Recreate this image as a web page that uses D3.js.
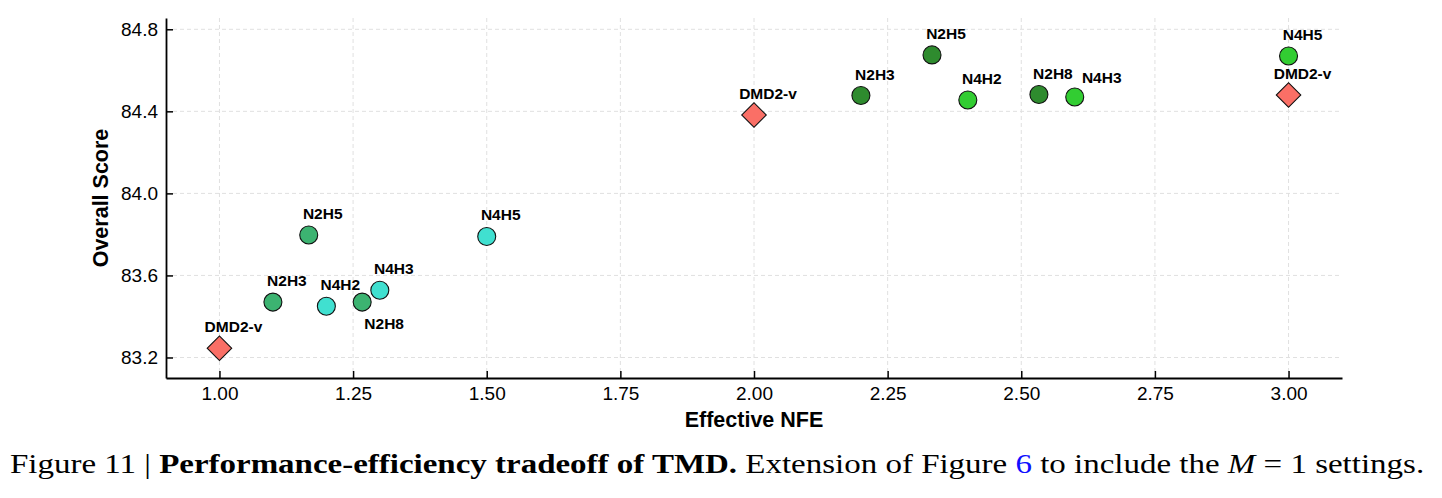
<!DOCTYPE html>
<html lang="en">
<head>
<meta charset="UTF-8">
<title>Performance-efficiency tradeoff</title>
<script src="https://d3js.org/d3.v7.min.js"></script>
<style>
  html, body { margin: 0; padding: 0; background: #fff; }
  svg { display: block; }
  .tick text { font-family: "Liberation Sans", Arial, sans-serif; font-size: 19px; fill: #000; }
  .ptlabel { font-family: "Liberation Sans", Arial, sans-serif; font-size: 15.5px; font-weight: bold; }
  .axtitle { font-family: "Liberation Sans", Arial, sans-serif; font-size: 21.5px; font-weight: bold; }
  .caption { font-family: "Liberation Serif", "Times New Roman", serif; font-size: 27px; }
</style>
</head>
<body>
<svg id="chart" width="1442" height="498"></svg>
<script>
// data
const names  = ["DMD2-v", "N2H3", "N2H5", "N4H2", "N2H8", "N4H3", "N4H5",
                "DMD2-v", "N2H3", "N2H5", "N4H2", "N2H8", "N4H3", "N4H5", "DMD2-v"];
const nfe    = [1.00, 1.10, 1.167, 1.20, 1.267, 1.30, 1.50,
                2.00, 2.20, 2.333, 2.40, 2.533, 2.60, 3.00, 3.00];
const score  = [83.245, 83.47, 83.797, 83.45, 83.47, 83.528, 83.79,
                84.382, 84.477, 84.675, 84.455, 84.482, 84.47, 84.67, 84.48];
const groups = ["base", "m1n2", "m1n2", "m1n4", "m1n2", "m1n4", "m1n4",
                "base", "m2n2", "m2n2", "m2n4", "m2n2", "m2n4", "m2n4", "base"];

const xTicks = [1.00, 1.25, 1.50, 1.75, 2.00, 2.25, 2.50, 2.75, 3.00];
const yTicks = [83.2, 83.6, 84.0, 84.4, 84.8];

const groupColor = {
  base: "#fa6f66",
  m1n2: "#3cb371",
  m1n4: "#40e0d0",
  m2n2: "#2e8b2e",
  m2n4: "#32cd32"
};

// label placement (default above-right, a couple nudged)
const labelShift = { 4: [22, 27], 12: [27, -14] };

const svg = d3.select("#chart");
const plotL = 166, plotR = 1342, plotT = 18, plotB = 378;

const x = d3.scaleLinear().domain([0.9, 3.1]).range([plotL, plotR]);
const y = d3.scaleLinear().domain([83.1, 84.855]).range([plotB, plotT]);

// grid
const grid = svg.append("g").attr("stroke", "#e0e0e0").attr("stroke-width", 1)
  .attr("stroke-dasharray", "4,3");
grid.selectAll(".gx").data(xTicks).enter().append("line")
  .attr("x1", d => x(d)).attr("x2", d => x(d))
  .attr("y1", plotT).attr("y2", plotB);
grid.selectAll(".gy").data(yTicks).enter().append("line")
  .attr("x1", plotL).attr("x2", plotR)
  .attr("y1", d => y(d)).attr("y2", d => y(d));

// axes, ticks pointing inward
const xAxis = svg.append("g").attr("transform", "translate(0," + plotB + ")")
  .call(d3.axisBottom(x).tickValues(xTicks).tickFormat(d3.format(".2f"))
    .tickSizeInner(-7).tickSizeOuter(0).tickPadding(8));
const yAxis = svg.append("g").attr("transform", "translate(" + plotL + ",0)")
  .call(d3.axisLeft(y).tickValues(yTicks).tickFormat(d3.format(".1f"))
    .tickSizeInner(-7).tickSizeOuter(0).tickPadding(8));
[xAxis, yAxis].forEach(a => {
  a.select(".domain").attr("stroke", "#000").attr("stroke-width", 1.8);
  a.selectAll(".tick line").attr("stroke", "#000").attr("stroke-width", 1.5);
});
xAxis.selectAll(".tick text").attr("dy", "0.75em");

// points
const idx = d3.range(names.length);
const circles = idx.filter(i => groups[i] !== "base");
const diamonds = idx.filter(i => groups[i] === "base");

svg.append("g").selectAll("circle").data(circles).enter().append("circle")
  .attr("cx", i => x(nfe[i])).attr("cy", i => y(score[i])).attr("r", 9)
  .attr("fill", i => groupColor[groups[i]])
  .attr("stroke", "#111").attr("stroke-width", 1.1);

svg.append("g").selectAll("path").data(diamonds).enter().append("path")
  .attr("d", d3.symbol().type(d3.symbolSquare).size(300))
  .attr("transform", i => "translate(" + x(nfe[i]) + "," + y(score[i]) + ") rotate(45)")
  .attr("fill", i => groupColor[groups[i]])
  .attr("stroke", "#111").attr("stroke-width", 1.1);

// point labels
svg.append("g").selectAll("text").data(idx).enter().append("text")
  .attr("class", "ptlabel")
  .attr("text-anchor", "middle")
  .attr("x", i => x(nfe[i]) + (labelShift[i] ? labelShift[i][0] : 14))
  .attr("y", i => y(score[i]) + (labelShift[i] ? labelShift[i][1] : -16))
  .text(i => names[i]);

// axis titles
svg.append("text").attr("class", "axtitle").attr("text-anchor", "middle")
  .attr("x", (plotL + plotR) / 2).attr("y", 427).text("Effective NFE");
svg.append("text").attr("class", "axtitle").attr("text-anchor", "middle")
  .attr("transform", "translate(108," + ((plotT + plotB) / 2) + ") rotate(-90)")
  .text("Overall Score");

// caption
const cap = svg.append("text").attr("class", "caption");
cap.append("tspan").text("Figure 11 | ");
cap.append("tspan").attr("font-weight", "bold").text("Performance-efficiency tradeoff of TMD.");
cap.append("tspan").text(" Extension of Figure ");
cap.append("tspan").attr("fill", "#1010ff").text("6");
cap.append("tspan").text(" to include the ");
cap.append("tspan").attr("font-style", "italic").text("M");
cap.append("tspan").text(" = 1 settings.");
const w = cap.node().getComputedTextLength();
cap.attr("transform", "translate(10,473) scale(" + (1415 / w) + ",1)");
</script>
</body>
</html>
